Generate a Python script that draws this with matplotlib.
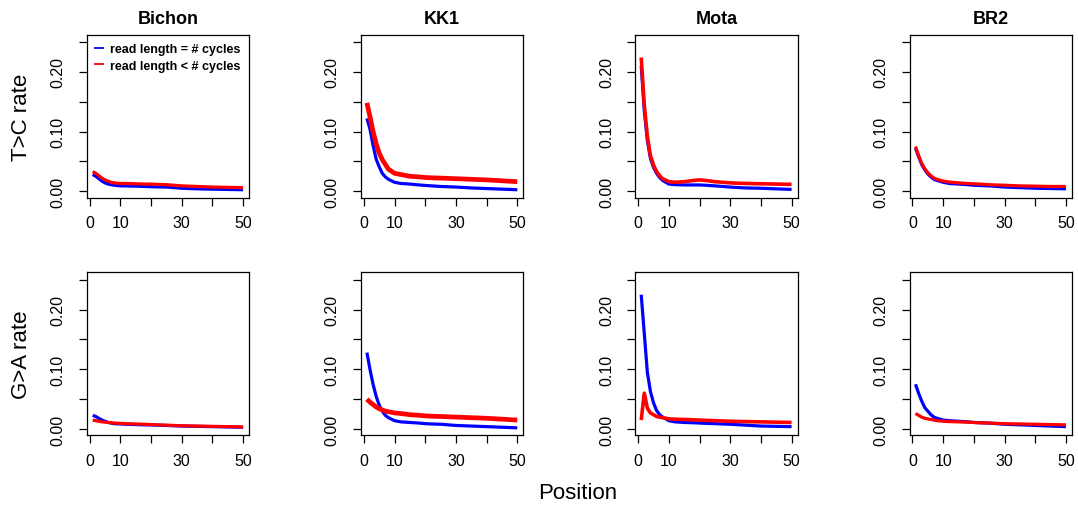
import matplotlib.pyplot as plt
import numpy as np

# chart: T>C and G>A rate along read position, 4 samples, 2 read-length groups

plt.rcParams['font.family'] = ['Liberation Sans', 'DejaVu Sans']

samples = ['Bichon', 'KK1', 'Mota', 'BR2']
row_labels = ['T>C rate', 'G>A rate']
legend_labels = ['read length = # cycles', 'read length < # cycles']

positions = [1, 2, 3, 4, 5, 6, 7, 8, 10, 12, 15, 18, 20, 22, 25, 30, 35, 40, 45, 50]

# T>C rate
bichon_tc_full = [.028, .025, .021, .017, .014, .012, .011, .010, .009, .0088, .0085, .008, .0075, .0072, .007, .005, .004, .0035, .003, .0025]
bichon_tc_short = [.033, .030, .026, .022, .019, .017, .015, .014, .013, .013, .0125, .012, .012, .0115, .011, .009, .008, .007, .0065, .006]
kk1_tc_full = [.122, .104, .077, .054, .041, .030, .024, .020, .015, .013, .012, .0105, .0097, .009, .008, .007, .0055, .0045, .0035, .0025]
kk1_tc_short = [.148, .125, .100, .080, .064, .053, .045, .037, .030, .028, .025, .024, .023, .0225, .022, .021, .020, .019, .0175, .016]
mota_tc_full = [.210, .135, .085, .055, .040, .030, .023, .018, .012, .011, .0105, .0105, .0105, .010, .009, .007, .0055, .005, .004, .003]
mota_tc_short = [.224, .145, .092, .060, .044, .033, .026, .021, .016, .015, .016, .018, .019, .018, .016, .014, .013, .0125, .012, .0115]
br2_tc_full = [.072, .058, .045, .036, .029, .024, .020, .018, .015, .013, .012, .011, .010, .0095, .009, .007, .006, .005, .0045, .004]
br2_tc_short = [.075, .060, .047, .038, .031, .026, .022, .020, .017, .0155, .014, .013, .0125, .012, .011, .010, .009, .0085, .008, .008]

# G>A rate
bichon_ga_full = [.023, .021, .018, .015, .013, .011, .010, .009, .0085, .008, .0075, .007, .0068, .0065, .006, .005, .0045, .004, .0035, .003]
bichon_ga_short = [.015, .014, .013, .012, .0115, .011, .0105, .010, .0095, .009, .0085, .008, .0075, .007, .0065, .0055, .005, .0045, .004, .0035]
kk1_ga_full = [.128, .100, .075, .055, .040, .030, .023, .019, .014, .012, .011, .010, .009, .0085, .008, .006, .005, .004, .003, .002]
kk1_ga_short = [.050, .045, .041, .037, .034, .032, .030, .029, .027, .026, .024, .023, .022, .0215, .021, .020, .019, .018, .0165, .015]
mota_ga_full = [.225, .160, .095, .063, .044, .031, .024, .020, .014, .012, .011, .0105, .010, .0095, .009, .008, .0065, .005, .0045, .004]
mota_ga_short = [.015, .060, .035, .027, .024, .021, .020, .019, .017, .0165, .016, .0155, .015, .0145, .014, .013, .0125, .012, .0115, .011]
br2_ga_full = [.075, .060, .047, .036, .030, .024, .020, .018, .015, .014, .013, .012, .011, .0105, .010, .008, .007, .006, .005, .004]
br2_ga_short = [.026, .023, .020, .018, .017, .016, .015, .014, .013, .0125, .012, .0115, .011, .0105, .010, .009, .0085, .008, .0075, .007]

panels = [
    [(bichon_tc_full, bichon_tc_short), (kk1_tc_full, kk1_tc_short),
     (mota_tc_full, mota_tc_short), (br2_tc_full, br2_tc_short)],
    [(bichon_ga_full, bichon_ga_short), (kk1_ga_full, kk1_ga_short),
     (mota_ga_full, mota_ga_short), (br2_ga_full, br2_ga_short)],
]
# the KK1 red band is noisy in the original, so draw it thicker
red_width = [2.3, 3.4, 2.6, 2.3]

W, H = 1078, 510
fig = plt.figure(figsize=(W / 100, H / 100), dpi=100)

col_left = [86.7, 360.9, 635.2, 909.5]
row_top = [35.5, 273.3]
box_w, box_h = 162.4, 163

for r in range(2):
    for c in range(4):
        ax = fig.add_axes([col_left[c] / W, 1 - (row_top[r] + box_h) / H, box_w / W, box_h / H])
        full, short = panels[r][c]
        ax.plot(positions, full, color='#0000ff', lw=2.3, solid_capstyle='butt',
                label=legend_labels[0])
        ax.plot(positions, short, color='#ff0000', lw=red_width[c], solid_capstyle='butt',
                label=legend_labels[1])
        ax.set_xlim(-0.96, 51.96)
        ax.set_ylim(-0.0105, 0.2625)
        ax.set_xticks([0, 10, 20, 30, 40, 50])
        ax.set_xticklabels(['0', '10', '', '30', '', '50'], fontsize=11.5)
        ax.set_yticks([0, 0.05, 0.10, 0.15, 0.20, 0.25])
        ax.set_yticklabels(['0.00', '', '0.10', '', '0.20', ''], fontsize=11.5,
                           rotation=90, va='center')
        ax.tick_params(axis='x', length=5.8, width=0.9, pad=7)
        ax.tick_params(axis='y', length=5.8, width=0.9, pad=9.5)
        for s in ax.spines.values():
            s.set_linewidth(0.9)
        if r == 0:
            ax.set_title(samples[c], fontsize=13, fontweight='bold', pad=8.5)
        if r == 0 and c == 0:
            leg = ax.legend(loc='upper left', bbox_to_anchor=(0.045, 0.945), frameon=False,
                            prop={'size': 9, 'weight': 'bold'}, handlelength=0.8,
                            handletextpad=0.5, labelspacing=0.35, borderpad=0,
                            borderaxespad=0)
            for h in leg.get_lines():
                h.set_linewidth(1.3)

fig.text(22 / W, 1 - 117 / H, row_labels[0], rotation=90, fontsize=16, ha='center', va='center')
fig.text(22 / W, 1 - 355 / H, row_labels[1], rotation=90, fontsize=16, ha='center', va='center')
fig.text(578 / W, 1 - 494 / H, 'Position', fontsize=16, ha='center', va='center')

plt.savefig('out.png', dpi=100)
